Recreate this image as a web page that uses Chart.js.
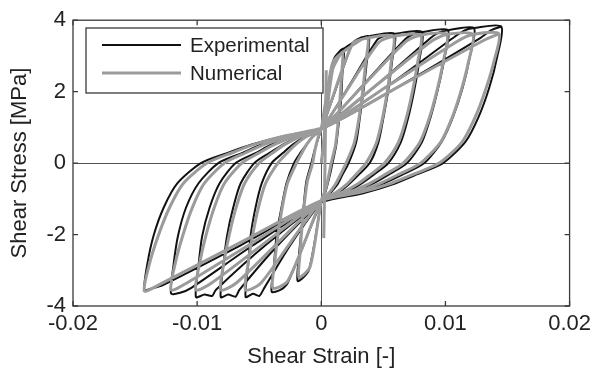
<!DOCTYPE html>
<html><head><meta charset="utf-8">
<script src="https://cdn.jsdelivr.net/npm/chart.js@4.4.1/dist/chart.umd.min.js"></script>
<style>html,body{margin:0;padding:0;background:#fff}</style>
</head><body>
<canvas id="c" width="596" height="375"></canvas>
<script>
// ---- tick values / labels ----
const xTickValues = [-0.02, -0.01, 0, 0.01, 0.02];
const xTickLabels = ['-0.02', '-0.01', '0', '0.01', '0.02'];
const yTickValues = [-4, -2, 0, 2, 4];
const yTickLabels = ['-4', '-2', '0', '2', '4'];
const seriesNames = ['Experimental', 'Numerical'];

// ---- Experimental loops [strain, stress] ----
const expStart = [[0,0],[0.001,2.9]];
const expLoop1 = [[0.0018,3.2],[0.0017,2.5],[0.0016,1.8],[0.0014,1.1],[0.0012,0.5],[0.0009,0],[0.0007,-0.33],[0.0005,-0.6],[0.0003,-0.85],[0,-1.1],[-0.001,-3.0],[-0.0019,-3.3],
 [-0.0018,-2.6],[-0.0016,-1.85],[-0.0014,-1.12],[-0.0012,-0.5],[-0.0008,0],[-0.0006,0.28],[-0.0004,0.52],[-0.0002,0.74],[0,0.95],[0.001,2.9],[0.0018,3.2]];
const expLoop2 = [[0.0038,3.55],[0.00365,2.8],[0.0034,2.02],[0.0031,1.25],[0.0028,0.57],[0.0022,0],[0.0017,-0.33],[0.0013,-0.6],[0.0007,-0.85],[0,-1.1],[-0.0027,-3.35],[-0.0033,-3.55],[-0.004,-3.6],
 [-0.0038,-2.8],[-0.0036,-2.0],[-0.0032,-1.23],[-0.0028,-0.56],[-0.0022,0],[-0.0017,0.28],[-0.0012,0.52],[-0.0007,0.74],[0,0.95],[0.0025,3.35],[0.0031,3.5],[0.0038,3.55]];
const expLoop3 = [[0.0059,3.62],[0.0057,2.85],[0.0054,2.05],[0.005,1.26],[0.0046,0.58],[0.0039,0],[0.003,-0.33],[0.0022,-0.6],[0.0013,-0.85],[0,-1.1],[-0.0025,-2.3],[-0.0046,-3.5],[-0.005,-3.72],[-0.0055,-3.66],[-0.0061,-3.75],
 [-0.0059,-2.9],[-0.0057,-2.05],[-0.0053,-1.25],[-0.0048,-0.57],[-0.004,0],[-0.0031,0.28],[-0.0023,0.52],[-0.0013,0.74],[0,0.95],[0.0023,2.2],[0.0045,3.45],[0.0052,3.58],[0.0059,3.62]];
const expLoop4 = [[0.0081,3.67],[0.0079,2.88],[0.0075,2.06],[0.007,1.27],[0.0064,0.58],[0.0054,0],[0.0042,-0.33],[0.0031,-0.6],[0.0018,-0.85],[0,-1.1],[-0.0035,-2.3],[-0.0066,-3.55],[-0.0069,-3.74],[-0.0075,-3.68],[-0.0081,-3.75],
 [-0.0079,-2.9],[-0.0076,-2.05],[-0.0071,-1.25],[-0.0065,-0.57],[-0.0054,0],[-0.0042,0.28],[-0.0031,0.52],[-0.0018,0.74],[0,0.95],[0.0034,2.2],[0.0068,3.48],[0.0075,3.62],[0.0081,3.67]];
const expLoop5 = [[0.0102,3.72],[0.0099,2.9],[0.0094,2.08],[0.0088,1.28],[0.0081,0.58],[0.0069,0],[0.0054,-0.33],[0.004,-0.6],[0.0023,-0.85],[0,-1.1],[-0.0045,-2.3],[-0.0085,-3.55],[-0.0088,-3.72],[-0.0094,-3.68],[-0.0101,-3.75],
 [-0.0099,-2.9],[-0.0096,-2.05],[-0.009,-1.25],[-0.0082,-0.57],[-0.0069,0],[-0.0053,0.28],[-0.004,0.52],[-0.0023,0.74],[0,0.95],[0.0045,2.2],[0.0088,3.5],[0.0095,3.66],[0.0102,3.72]];
const expLoop6 = [[0.0123,3.78],[0.01195,2.95],[0.01138,2.1],[0.01062,1.3],[0.0097,0.6],[0.0083,0],[0.0065,-0.33],[0.0048,-0.6],[0.0028,-0.85],[0,-1.1],[-0.0055,-2.3],[-0.0105,-3.5],[-0.0113,-3.62],[-0.0121,-3.65],
 [-0.0119,-2.85],[-0.01155,-2.05],[-0.0109,-1.25],[-0.0099,-0.57],[-0.0083,0],[-0.0064,0.28],[-0.0048,0.52],[-0.0028,0.74],[0,0.95],[0.0055,2.2],[0.0108,3.55],[0.0116,3.72],[0.0123,3.78]];
const expLoop7 = [[0.0145,3.82],[0.01415,2.95],[0.01352,2.1],[0.01268,1.3],[0.01162,0.6],[0.0098,0],[0.0076,-0.33],[0.0057,-0.6],[0.0033,-0.85],[0,-1.1],[-0.0065,-2.3],[-0.0128,-3.42],[-0.0136,-3.5],[-0.01425,-3.55],
 [-0.014,-2.8],[-0.0135,-2.02],[-0.0127,-1.25],[-0.0116,-0.57],[-0.0097,0],[-0.0076,0.28],[-0.0056,0.52],[-0.0032,0.74],[0,0.95],[0.0065,2.2],[0.0128,3.5],[0.0137,3.72],[0.0145,3.82]];

// ---- Numerical loops [strain, stress] ----
const numStart = [[0,0],[0.0009,2.6]];
const numLoop1 = [[0.0017,3.1],[0.00163,2.45],[0.0015,1.77],[0.00134,1.09],[0.00114,0.5],[0.0008,0],[0.00062,-0.315],[0.00046,-0.58],[0.00026,-0.82],[0,-1.05],[-0.0009,-2.9],[-0.0018,-3.2],
 [-0.00171,-2.53],[-0.00156,-1.82],[-0.00136,-1.12],[-0.00112,-0.51],[-0.0007,0],[-0.00055,0.29],[-0.0004,0.53],[-0.00023,0.75],[0,0.96],[0.0009,2.8],[0.0017,3.1]];
const numLoop2 = [[0.0037,3.5],[0.00356,2.77],[0.00333,2.0],[0.00302,1.23],[0.00265,0.56],[0.002,0],[0.00156,-0.315],[0.00116,-0.58],[0.00066,-0.82],[0,-1.05],[-0.0027,-3.3],[-0.0039,-3.5],
 [-0.00375,-2.77],[-0.00348,-2.0],[-0.00314,-1.23],[-0.00272,-0.56],[-0.002,0],[-0.00156,0.29],[-0.00116,0.53],[-0.00066,0.75],[0,0.96],[0.0025,3.33],[0.0037,3.5]];
const numLoop3 = [[0.0058,3.55],[0.00562,2.8],[0.00532,2.02],[0.00492,1.24],[0.00444,0.57],[0.0036,0],[0.00281,-0.315],[0.00209,-0.58],[0.00119,-0.82],[0,-1.05],[-0.0025,-2.23],[-0.0049,-3.37],[-0.0061,-3.55],
 [-0.00589,-2.8],[-0.00553,-2.02],[-0.00506,-1.24],[-0.00449,-0.57],[-0.0035,0],[-0.00273,0.29],[-0.00203,0.53],[-0.00116,0.75],[0,0.96],[0.0023,2.17],[0.0046,3.37],[0.0058,3.55]];
const numLoop4 = [[0.008,3.58],[0.00777,2.83],[0.00736,2.04],[0.00684,1.25],[0.0062,0.57],[0.0051,0],[0.00398,-0.315],[0.00296,-0.58],[0.00168,-0.82],[0,-1.05],[-0.0035,-2.23],[-0.0069,-3.37],[-0.0081,-3.55],
 [-0.00785,-2.8],[-0.00742,-2.02],[-0.00686,-1.24],[-0.00618,-0.57],[-0.005,0],[-0.0039,0.29],[-0.0029,0.53],[-0.00165,0.75],[0,0.96],[0.0034,2.18],[0.0068,3.4],[0.008,3.58]];
const numLoop5 = [[0.0101,3.6],[0.00982,2.84],[0.00933,2.05],[0.0087,1.26],[0.00793,0.58],[0.0066,0],[0.00515,-0.315],[0.00383,-0.58],[0.00218,-0.82],[0,-1.05],[-0.0045,-2.22],[-0.0089,-3.37],[-0.0101,-3.55],
 [-0.0098,-2.8],[-0.00929,-2.02],[-0.00862,-1.24],[-0.00781,-0.57],[-0.0064,0],[-0.00499,0.29],[-0.00371,0.53],[-0.00211,0.75],[0,0.96],[0.0045,2.2],[0.0089,3.42],[0.0101,3.6]];
const numLoop6 = [[0.0122,3.6],[0.01186,2.84],[0.01128,2.05],[0.01052,1.26],[0.0096,0.58],[0.008,0],[0.00624,-0.315],[0.00464,-0.58],[0.00264,-0.82],[0,-1.05],[-0.0055,-2.22],[-0.0109,-3.37],[-0.0121,-3.55],
 [-0.01176,-2.8],[-0.01115,-2.02],[-0.01038,-1.24],[-0.00943,-0.57],[-0.0078,0],[-0.00608,0.29],[-0.00452,0.53],[-0.00257,0.75],[0,0.96],[0.0055,2.19],[0.011,3.42],[0.0122,3.6]];
const numLoop7 = [[0.0143,3.62],[0.01392,2.86],[0.01324,2.06],[0.01238,1.27],[0.01132,0.58],[0.0095,0],[0.00741,-0.315],[0.00551,-0.58],[0.00314,-0.82],[0,-1.05],[-0.0065,-2.22],[-0.01305,-3.4],[-0.01425,-3.58],
 [-0.01385,-2.83],[-0.01314,-2.04],[-0.01223,-1.25],[-0.01112,-0.57],[-0.0092,0],[-0.00718,0.29],[-0.00534,0.53],[-0.00304,0.75],[0,0.96],[0.0065,2.19],[0.0131,3.44],[0.0143,3.62]];
const numSpike = [[0.0002,-2.1],[0.0003,0],[0.0004,2.6]];
const numTail = [[0,0.97],[-0.0025,0.78],[-0.0045,0.58]];

const toXY = arrs => [].concat(...arrs).map(p => ({x: p[0], y: p[1]}));
const expData = toXY([expStart, expLoop1, expLoop2, expLoop3, expLoop4, expLoop5, expLoop6, expLoop7]);
const numData = toXY([numStart, numLoop1, numLoop2, numLoop3, numLoop4, numLoop5, numLoop6, numLoop7]);

const BLACK = '#111111', GRAY = '#9b9b9b', AXIS = '#3a3a3a';
const FONT = '"Liberation Sans", Arial, Helvetica, sans-serif';

const decorPlugin = {
  id: 'decor',
  beforeDatasetsDraw(chart) {
    const {ctx, chartArea: a, scales: {x, y}} = chart;
    ctx.save();
    ctx.strokeStyle = '#555'; ctx.lineWidth = 1;
    const x0 = Math.round(x.getPixelForValue(0)) + 0.5, y0 = Math.round(y.getPixelForValue(0)) + 0.5;
    ctx.beginPath();
    ctx.moveTo(a.left, y0); ctx.lineTo(a.right, y0);
    ctx.moveTo(x0, a.top); ctx.lineTo(x0, a.bottom);
    ctx.stroke();
    ctx.restore();
  },
  afterDraw(chart) {
    const {ctx, chartArea: a, scales: {x, y}} = chart;
    ctx.save();
    ctx.strokeStyle = AXIS; ctx.lineWidth = 1.3;
    ctx.strokeRect(a.left, a.top, a.right - a.left, a.bottom - a.top);
    const tl = 5;
    ctx.beginPath();
    xTickValues.forEach(v => {
      const px = x.getPixelForValue(v);
      ctx.moveTo(px, a.bottom); ctx.lineTo(px, a.bottom - tl);
      ctx.moveTo(px, a.top); ctx.lineTo(px, a.top + tl);
    });
    yTickValues.forEach(v => {
      const py = y.getPixelForValue(v);
      ctx.moveTo(a.left, py); ctx.lineTo(a.left + tl, py);
      ctx.moveTo(a.right, py); ctx.lineTo(a.right - tl, py);
    });
    ctx.stroke();
    // legend box
    const lx = 86, ly = 28, lw = 237, lh = 65;
    ctx.fillStyle = '#fff';
    ctx.fillRect(lx, ly, lw, lh);
    ctx.strokeStyle = AXIS; ctx.lineWidth = 1.3;
    ctx.strokeRect(lx, ly, lw, lh);
    const rows = [{c: BLACK, w: 2.2, yy: 45}, {c: GRAY, w: 3.2, yy: 73}];
    ctx.font = '20.5px ' + FONT; ctx.textBaseline = 'middle'; ctx.fillStyle = '#222';
    rows.forEach((r, i) => {
      ctx.strokeStyle = r.c; ctx.lineWidth = r.w;
      ctx.beginPath(); ctx.moveTo(102, r.yy); ctx.lineTo(181, r.yy); ctx.stroke();
      ctx.fillText(seriesNames[i], 190, r.yy + 1);
    });
    ctx.restore();
  }
};

new Chart(document.getElementById('c'), {
  type: 'scatter',
  data: {
    datasets: [
      {label: seriesNames[0], data: expData, showLine: true, borderColor: BLACK, borderWidth: 2, pointRadius: 0, tension: 0.25, order: 2},
      {label: seriesNames[1], data: numData, showLine: true, borderColor: GRAY, borderWidth: 3, pointRadius: 0, tension: 0.25, order: 1},
      {label: 'spike', data: toXY([numSpike]), showLine: true, borderColor: GRAY, borderWidth: 3, pointRadius: 0, tension: 0, order: 1},
      {label: 'tail', data: toXY([numTail]), showLine: true, borderColor: GRAY, borderWidth: 3, pointRadius: 0, tension: 0.3, order: 1}
    ]
  },
  options: {
    responsive: false, animation: false, devicePixelRatio: 1,
    layout: {padding: {top: 14, right: 24, left: 0, bottom: 0}},
    plugins: {legend: {display: false}, tooltip: {enabled: false}},
    scales: {
      x: {
        type: 'linear', min: -0.02, max: 0.02,
        afterBuildTicks: s => { s.ticks = xTickValues.map(v => ({value: v})); },
        afterFit: s => { s.height = 69; },
        grid: {display: false, drawTicks: false},
        border: {display: false},
        ticks: {color: '#222', padding: 5, font: {family: FONT, size: 22}, maxRotation: 0,
          callback: (v, i) => xTickLabels[i]},
        title: {display: true, text: 'Shear Strain [-]', color: '#222', font: {family: FONT, size: 22}, padding: {top: 0, bottom: 5}}
      },
      y: {
        type: 'linear', min: -4, max: 4,
        afterBuildTicks: s => { s.ticks = yTickValues.map(v => ({value: v})); },
        afterFit: s => { s.width = 73; },
        grid: {display: false, drawTicks: false},
        border: {display: false},
        ticks: {color: '#222', padding: 7, font: {family: FONT, size: 22},
          callback: (v, i) => yTickLabels[i]},
        title: {display: true, text: 'Shear Stress [MPa]', color: '#222', font: {family: FONT, size: 22}, padding: {top: 7, bottom: 0}}
      }
    }
  },
  plugins: [decorPlugin]
});
</script>
</body></html>
